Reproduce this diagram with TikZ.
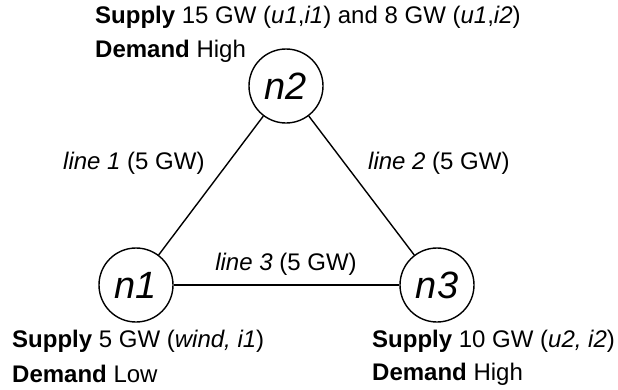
\documentclass[tikz,border=0pt]{standalone}
\usepackage{fontspec}
\setmainfont{Liberation Sans}
\begin{document}
\begin{tikzpicture}[x=1pt,y=-1pt,
  bus/.style={circle,draw,line width=1.4pt,minimum size=74pt,inner sep=0pt,font=\fontsize{38}{40}\selectfont\itshape},
  lbl/.style={font=\fontsize{24}{28}\selectfont,inner sep=0pt,anchor=base west},
  wire/.style={line width=1.4pt}]
\useasboundingbox (0,0) rectangle (618,389);
\node[bus] (n2) at (286,86) {n2};
\node[bus] (n1) at (136,285) {n1};
\node[bus] (n3) at (437,285) {n3};
\draw[wire] (n1) -- (n2);
\draw[wire] (n2) -- (n3);
\draw[wire] (n1) -- (n3);
\node[lbl] (l1) at (63,169) {\textit{line 1} (5 GW)};
\node[lbl] (l2) at (368,169) {\textit{line 2} (5 GW)};
\node[lbl,anchor=base] (l3) at (286,270) {\textit{line 3} (5 GW)};
\node[lbl] (s2) at (95,23) {\textbf{Supply} 15 GW (\textit{u1},\textit{i1}) and 8 GW (\textit{u1},\textit{i2})};
\node[lbl] (d2) at (95,57) {\textbf{Demand} High};
\node[lbl] (s1) at (12,347) {\textbf{Supply} 5 GW (\textit{wind, i1})};
\node[lbl] (d1) at (12,382) {\textbf{Demand} Low};
\node[lbl] (s3) at (372,347) {\textbf{Supply} 10 GW (\textit{u2, i2})};
\node[lbl] (d3) at (372,380) {\textbf{Demand} High};
\end{tikzpicture}
\end{document}
